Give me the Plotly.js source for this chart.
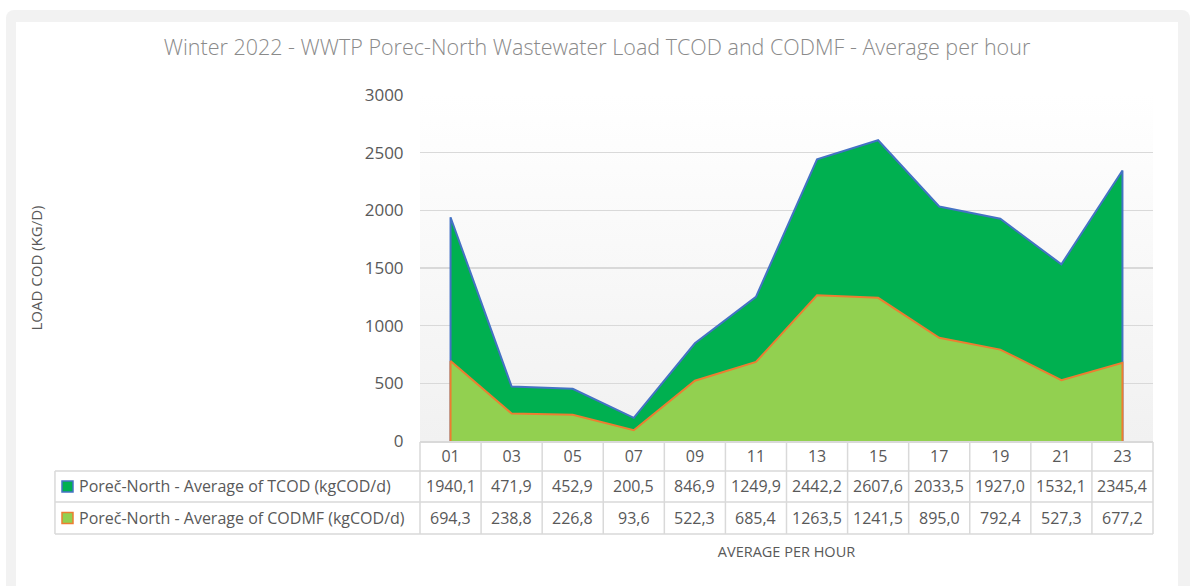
<!DOCTYPE html>
<html>
<head>
<meta charset="utf-8">
<script src="https://cdn.plot.ly/plotly-3.0.1.min.js"></script>
<style>
  html, body { margin: 0; padding: 0; background: #ffffff; width: 1190px; height: 586px; overflow: hidden; }
  #frame { position: absolute; left: 6px; top: 10px; width: 1184px; height: 600px; background: #f2f2f2; border-radius: 8px; }
  #inner { position: absolute; left: 16px; top: 22px; width: 1162px; height: 580px; background: #ffffff; }
  #grad { position: absolute; left: 420px; top: 95px; width: 733px; height: 346px;
          background: linear-gradient(to bottom, #ffffff 0%, #fdfdfd 14%, #f1f1f1 100%); }
  #chart { position: absolute; left: 16px; top: 22px; width: 1162px; height: 564px; }
</style>
</head>
<body>
<div id="frame"></div>
<div id="inner"></div>
<div id="grad"></div>
<div id="chart"></div>
<script>
// ---- data ----
const hours = ['01','03','05','07','09','11','13','15','17','19','21','23'];
const tcod  = [1940.1, 471.9, 452.9, 200.5, 846.9, 1249.9, 2442.2, 2607.6, 2033.5, 1927.0, 1532.1, 2345.4];
const codmf = [694.3, 238.8, 226.8, 93.6, 522.3, 685.4, 1263.5, 1241.5, 895.0, 792.4, 527.3, 677.2];
const seriesNames = ['Poreč-North - Average of TCOD (kgCOD/d)', 'Poreč-North - Average of CODMF (kgCOD/d)'];
const yTicks = [0, 500, 1000, 1500, 2000, 2500, 3000];

// ---- styles ----
const FONT = 'Open Sans, sans-serif';
const TXT = '#595959';
const GRID = '#d9d9d9';
const fills = ['#00b050', '#92d050'];
const lines = ['#4472c4', '#ed7d31'];

// closed area polygons (vertical edges at first/last hour, like the original)
function areaTrace(vals, k) {
  return {
    type: 'scatter', mode: 'lines',
    x: [hours[0]].concat(hours, [hours[hours.length - 1]]),
    y: [0].concat(vals, [0]),
    fill: 'toself', fillcolor: fills[k],
    line: { color: lines[k], width: 2 },
    name: seriesNames[k], showlegend: false, hoverinfo: 'skip'
  };
}
const data = [areaTrace(tcod, 0), areaTrace(codmf, 1)];

// ---- data table under the axis ----
const fmt = v => v.toFixed(1).replace('.', ',');
const rowB = [-0.0029, -0.0867, -0.1763, -0.2688]; // row borders (paper)
const rowC = [-0.1315, -0.2225];                  // value rows centres (paper)
const legLeft = -0.498;
const shapes = [];
const annotations = [];
const bline = { color: GRID, width: 1.5 };
for (let r = 1; r < rowB.length; r++) {
  shapes.push({ type: 'line', xref: 'paper', yref: 'paper', x0: legLeft, x1: 1, y0: rowB[r], y1: rowB[r], line: bline });
}
shapes.push({ type: 'line', xref: 'paper', yref: 'paper', x0: legLeft, x1: legLeft, y0: rowB[1], y1: rowB[3], line: bline });
shapes.push({ type: 'line', xref: 'paper', yref: 'paper', x0: 0, x1: 0, y0: rowB[0], y1: rowB[3], line: bline });
shapes.push({ type: 'line', xref: 'paper', yref: 'paper', x0: 1, x1: 1, y0: rowB[0], y1: rowB[3], line: bline });
for (let i = 0; i < hours.length - 1; i++) {
  shapes.push({ type: 'line', xref: 'x', yref: 'paper', x0: i + 0.5, x1: i + 0.5, y0: rowB[0], y1: rowB[3], line: bline });
}
[tcod, codmf].forEach((vals, k) => {
  vals.forEach((v, i) => {
    annotations.push({ xref: 'x', yref: 'paper', x: i, y: rowC[k], text: fmt(v), showarrow: false,
      xanchor: 'center', yanchor: 'middle', font: { family: FONT, size: 16, color: TXT } });
  });
  const keyH = 0.0318;
  shapes.push({ type: 'rect', xref: 'paper', yref: 'paper', x0: -0.4884, x1: -0.4734,
    y0: rowC[k] - keyH / 2, y1: rowC[k] + keyH / 2, fillcolor: fills[k], line: { color: lines[k], width: 1.5 } });
  annotations.push({ xref: 'paper', yref: 'paper', x: -0.4679, y: rowC[k], text: seriesNames[k], showarrow: false,
    xanchor: 'left', yanchor: 'middle', font: { family: FONT, size: 16, color: TXT } });
});

const layout = {
  width: 1162, height: 564,
  margin: { l: 404, r: 25, t: 73, b: 145, pad: 0 },
  paper_bgcolor: 'rgba(0,0,0,0)', plot_bgcolor: 'rgba(0,0,0,0)',
  font: { family: FONT, color: TXT },
  title: { text: 'Winter 2022 - WWTP Porec-North Wastewater Load TCOD and CODMF - Average per hour',
    font: { family: FONT, size: 21.5, color: '#8a8a8a', weight: 300 }, x: 0.5, xref: 'container', xanchor: 'center',
    y: 0.954, yref: 'container', yanchor: 'middle' },
  xaxis: {
    type: 'category', categoryarray: hours, categoryorder: 'array', range: [-0.5, 11.5],
    showgrid: false, zeroline: false, showline: true, linecolor: GRID, linewidth: 1.5,
    ticks: '', ticklen: 0,
    tickfont: { family: FONT, size: 16, color: TXT },
    title: { text: 'AVERAGE PER HOUR', font: { family: FONT, size: 14.5, color: TXT }, standoff: 81 },
    automargin: false, fixedrange: true
  },
  yaxis: {
    range: [0, 3000], tickvals: yTicks, showgrid: true, gridcolor: GRID, gridwidth: 1.5,
    zeroline: false, showline: false,
    ticks: 'outside', ticklen: 12, tickcolor: 'rgba(0,0,0,0)',
    tickfont: { family: FONT, size: 17, color: TXT },
    title: { text: 'LOAD COD (KG/D)', font: { family: FONT, size: 15, color: TXT }, standoff: 318 },
    automargin: false, fixedrange: true
  },
  shapes: shapes,
  annotations: annotations,
  showlegend: false
};

Plotly.newPlot('chart', data, layout, { displayModeBar: false, staticPlot: true });
</script>
</body>
</html>
